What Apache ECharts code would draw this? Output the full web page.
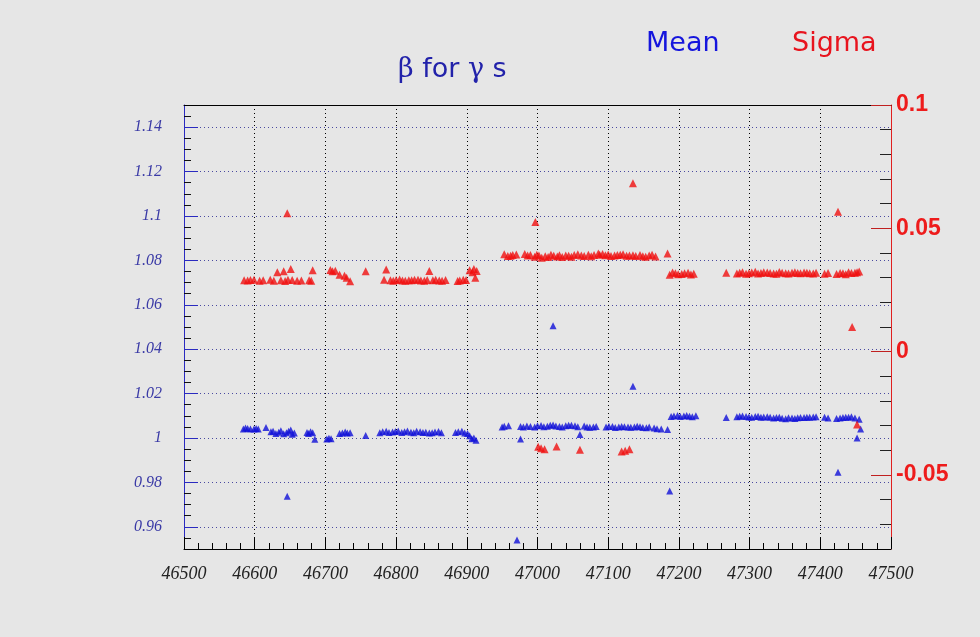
<!DOCTYPE html>
<html>
<head>
<meta charset="utf-8">
<script src="https://cdn.jsdelivr.net/npm/echarts@6/dist/echarts.min.js"></script>
<style>
html,body{margin:0;padding:0;background:#e6e6e6;}
#c{width:980px;height:637px;}
</style>
</head>
<body>
<div id="c"></div>
<script>
// ---- data ----
const meanX = [
 46584,46590,46599,46605,46616,46623,46630,46637,46645,46651,46656,
 46674,46679,46685,46702,46708,46720,46728,46735,46757,
 46777,46786,46795,46803,46812,46821,46829,46838,46847,46855,46864,
 46884,46893,46901,46907,46913,
 46950,46959,46976,46976,46985,46996,47005,47014,47022,47031,47040,47048,47057,47060,47066,
 47074,47083,47097,47106,47115,47123,47132,47141,47149,47158,47165,47175,47184,
 47189,47198,47207,47215,47224,
 47267,47282,47290,47299,47308,47316,47325,47334,47342,47351,
 47360,47368,47377,47385,47394,47406,47411,47423,47432,47440,47449,47455,
 47452,47457,47425,46646,47135,47022,47187,46971,
 46587,46594,46602,46626,46634,46641,46648,46653,46676,46682,46705,46724,46731,
 46781,46790,46799,46808,46816,46825,46834,46842,46851,46860,46888,46897,46904,46910,
 46953,46980,46990,47000,47009,47018,47026,47035,47044,47053,47070,47079,47101,47110,
 47119,47128,47137,47145,47154,47169,
 47193,47202,47211,47219,47286,47295,47303,47312,47320,47329,47338,47346,47355,47364,
 47372,47381,47390,47428,47436,47444
];
const meanY = [
 1.0041,1.0043,1.0041,1.0040,1.0047,1.0028,1.0020,1.0033,1.0024,1.0036,1.0022,
 1.0025,1.0028,0.9994,0.9995,0.9997,1.0020,1.0027,1.0024,1.0011,
 1.0024,1.0030,1.0027,1.0031,1.0028,1.0026,1.0030,1.0025,1.0022,1.0027,1.0024,
 1.0025,1.0030,1.0020,0.9997,0.9990,
 1.0050,1.0055,1.0052,0.9996,1.0054,1.0049,1.0056,1.0053,1.0058,1.0052,1.0055,1.0057,1.0051,1.0016,1.0054,
 1.0048,1.0052,1.0050,1.0052,1.0049,1.0051,1.0048,1.0053,1.0047,1.0050,1.0045,1.0040,1.0038,
 1.0097,1.0101,1.0099,1.0098,1.0100,
 1.0092,1.0096,1.0099,1.0095,1.0097,1.0093,1.0096,1.0090,1.0094,1.0087,
 1.0090,1.0091,1.0092,1.0094,1.0096,1.0093,1.0090,1.0088,1.0092,1.0094,1.0090,1.0085,
 1.0000,1.0040,0.9846,0.9738,1.0233,1.0506,0.9761,0.9541,
 1.0045,1.0040,1.0043,1.0030,1.0026,1.0019,1.0030,1.0017,1.0020,1.0024,0.9999,1.0023,1.0022,
 1.0028,1.0025,1.0029,1.0025,1.0031,1.0024,1.0028,1.0026,1.0024,1.0029,1.0028,1.0022,1.0010,1.0000,
 1.0053,1.0049,1.0052,1.0055,1.0051,1.0057,1.0054,1.0050,1.0057,1.0055,1.0050,1.0050,1.0053,1.0047,
 1.0052,1.0050,1.0049,1.0051,1.0046,1.0042,
 1.0099,1.0097,1.0101,1.0096,1.0098,1.0097,1.0094,1.0098,1.0095,1.0093,1.0092,1.0089,1.0091,1.0088,
 1.0092,1.0093,1.0095,1.0090,1.0093,1.0096
];
const sigmaX = [
 46585,46599,46607,46622,46632,46637,46643,46651,46653,46660,46677,46682,
 46707,46714,46727,46735,46757,46783,46786,46792,46800,46809,46818,46826,46835,46844,46847,46852,46861,46870,
 46887,46895,46904,46910,46912,
 46953,46958,46965,46982,46990,46996,47002,47006,47011,47019,47023,47028,47035,47040,47048,47057,47066,
 47072,47080,47086,47092,47096,47100,47104,47109,47113,47117,47121,47126,47130,47135,47149,47158,47162,47167,47184,
 47187,47195,47204,47213,47221,
 47267,47282,47290,47299,47308,47316,47325,47334,47342,47351,47360,47368,47377,47385,47394,
 47406,47411,47423,47432,47440,47449,47455,
 46646,46997,47135,47425,47445,47452,
 47001,47005,47010,47027,47060,47119,47124,47130,
 46590,46594,46612,46627,46641,46647,46666,46680,46710,46720,46730,46796,46805,46813,46822,
 46831,46840,46856,46865,46890,46899,46908,46914,
 46962,46970,46986,46999,47015,47031,47044,47052,47062,47076,47088,47139,47145,47153,
 47191,47199,47208,47217,47286,47295,47303,47312,47320,47329,47338,47346,47355,47364,
 47372,47381,47390,47428,47436,47444,47452
];
const sigmaY = [
 0.0290,0.0292,0.0288,0.0292,0.0322,0.0290,0.0286,0.0335,0.0291,0.0287,0.0290,0.0330,
 0.0331,0.0328,0.0308,0.0285,0.0326,0.0292,0.0333,0.0290,0.0291,0.0289,0.0290,0.0292,0.0289,0.0291,0.0327,0.0290,0.0289,0.0291,
 0.0286,0.0292,0.0330,0.0335,0.0300,
 0.0395,0.0388,0.0392,0.0396,0.0392,0.0385,0.0390,0.0381,0.0387,0.0393,0.0389,0.0386,0.0384,0.0390,0.0385,0.0395,0.0388,
 0.0393,0.0392,0.0398,0.0396,0.0391,0.0394,0.0388,0.0390,0.0392,0.0393,0.0395,0.0389,0.0390,0.0391,0.0387,0.0390,0.0393,0.0386,0.0398,
 0.0312,0.0318,0.0315,0.0320,0.0316,
 0.0320,0.0317,0.0322,0.0318,0.0324,0.0319,0.0321,0.0317,0.0323,0.0318,0.0320,0.0319,0.0321,0.0318,0.0320,
 0.0316,0.0319,0.0315,0.0318,0.0322,0.0320,0.0325,
 0.0561,0.0526,0.0683,0.0567,0.0100,-0.0295,
 -0.0385,-0.0392,-0.0396,-0.0384,-0.0398,-0.0405,-0.0402,-0.0396,
 0.0289,0.0291,0.0290,0.0287,0.0326,0.0292,0.0289,0.0287,0.0326,0.0312,0.0300,0.0287,0.0293,0.0288,0.0290,
 0.0292,0.0288,0.0292,0.0287,0.0289,0.0291,0.0322,0.0327,
 0.0389,0.0394,0.0390,0.0393,0.0384,0.0391,0.0389,0.0392,0.0390,0.0387,0.0393,0.0388,0.0392,0.0385,
 0.0321,0.0314,0.0318,0.0313,0.0320,0.0316,0.0321,0.0317,0.0322,0.0319,0.0316,0.0320,0.0317,0.0322,
 0.0318,0.0320,0.0317,0.0319,0.0314,0.0319,0.0322
];
const leftLabels = [0.96,0.98,1.00,1.02,1.04,1.06,1.08,1.10,1.12,1.14];
const rightLabels = [-0.05,0,0.05,0.1];

// ---- minor tick positions (axis decoration only) ----
const leftMinor = [];
for (let k = 191; k <= 229; k++) { if (k % 4 !== 0) leftMinor.push(+(k*0.005).toFixed(3)); }
const rightMinor = [];
for (let k = -7; k <= 9; k++) { if (k % 5 !== 0) rightMinor.push(+(k*0.01).toFixed(2)); }

const fmt = v => String(+(+v).toFixed(3));
const chart = echarts.init(document.getElementById('c'), null, {renderer:'canvas'});
chart.setOption({
  backgroundColor: '#e6e6e6',
  animation: false,
  title: [
    {text: '{b|β} for {g|γ} s', left: 398, top: 56, padding: 0,
     textStyle: {fontFamily: 'DejaVu Sans', fontSize: 27, fontWeight: 'normal', color: '#2222aa',
       rich: {b: {fontFamily: 'DejaVu Serif', fontSize: 27, color: '#2222aa'},
              g: {fontFamily: 'DejaVu Serif', fontSize: 27, color: '#2222aa'}}}},
    {text: 'Mean', left: 646, top: 30, padding: 0,
     textStyle: {fontFamily: 'DejaVu Sans', fontSize: 27, fontWeight: 'normal', color: '#1515dd'}},
    {text: 'Sigma', left: 792, top: 30, padding: 0,
     textStyle: {fontFamily: 'DejaVu Sans', fontSize: 27, fontWeight: 'normal', color: '#e8141e'}}
  ],
  grid: {left: 184, right: 89, top: 105, bottom: 88, containLabel: false},
  xAxis: [
    {type: 'value', min: 46500, max: 47500, interval: 100, position: 'bottom',
     axisLine: {show: true, onZero: false, lineStyle: {color: '#000', width: 1}},
     axisTick: {show: true, inside: true, length: 12, lineStyle: {color: '#000'}},
     minorTick: {show: true, splitNumber: 5, length: 6, lineStyle: {color: '#000'}},
     splitLine: {show: true, lineStyle: {color: '#000', type: [1, 3], width: 1}},
     axisLabel: {margin: 16, formatter: v => String(v), fontFamily: 'Liberation Serif', fontStyle: 'italic', fontSize: 18, color: '#222'}},
    {type: 'value', min: 46500, max: 47500, position: 'top',
     axisLine: {show: true, onZero: false, lineStyle: {color: '#000', width: 1}},
     axisTick: {show: false}, axisLabel: {show: false}, splitLine: {show: false}}
  ],
  yAxis: [
    {type: 'value', min: 0.95, max: 1.15, splitNumber: 10, position: 'left',
     axisLine: {show: true, onZero: false, lineStyle: {color: '#2a2ac0', width: 1}},
     axisTick: {show: true, inside: true, length: 14, customValues: leftLabels, lineStyle: {color: '#2a2ac0'}},
     axisLabel: {customValues: leftLabels, formatter: fmt, margin: 22,
       fontFamily: 'Liberation Serif', fontStyle: 'italic', fontSize: 16, color: '#3a3aa6'},
     splitLine: {show: true, lineStyle: {color: '#4a4aa0', type: [1, 3], width: 1}}},
    {type: 'value', min: 0.95, max: 1.15, position: 'left',
     axisLine: {show: false}, axisLabel: {show: false}, splitLine: {show: false},
     axisTick: {show: true, inside: true, length: 7, customValues: leftMinor, lineStyle: {color: '#111'}}},
    {type: 'value', min: -0.08, max: 0.1, splitNumber: 4, position: 'right',
     axisLine: {show: true, onZero: false, lineStyle: {color: '#e02020', width: 1}},
     axisTick: {show: true, inside: true, length: 20, customValues: rightLabels, lineStyle: {color: '#c02020'}},
     axisLabel: {customValues: rightLabels, formatter: fmt, margin: 5,
       fontFamily: 'Liberation Sans', fontWeight: 'bold', fontSize: 23, color: '#ee1c1c'},
     splitLine: {show: false}},
    {type: 'value', min: -0.08, max: 0.1, position: 'right',
     axisLine: {show: false}, axisLabel: {show: false}, splitLine: {show: false},
     axisTick: {show: true, inside: true, length: 11, customValues: rightMinor, lineStyle: {color: '#222'}}}
  ],
  series: [
    {name: 'Mean', type: 'scatter', xAxisIndex: 0, yAxisIndex: 0,
     symbol: 'triangle', symbolSize: 7, itemStyle: {color: '#1010d8'},
     data: meanX.map((x, i) => [x, meanY[i]])},
    {name: 'Sigma', type: 'scatter', xAxisIndex: 0, yAxisIndex: 2,
     symbol: 'triangle', symbolSize: 8, itemStyle: {color: '#f01010'},
     data: sigmaX.map((x, i) => [x, sigmaY[i]])}
  ]
});
</script>
</body>
</html>
